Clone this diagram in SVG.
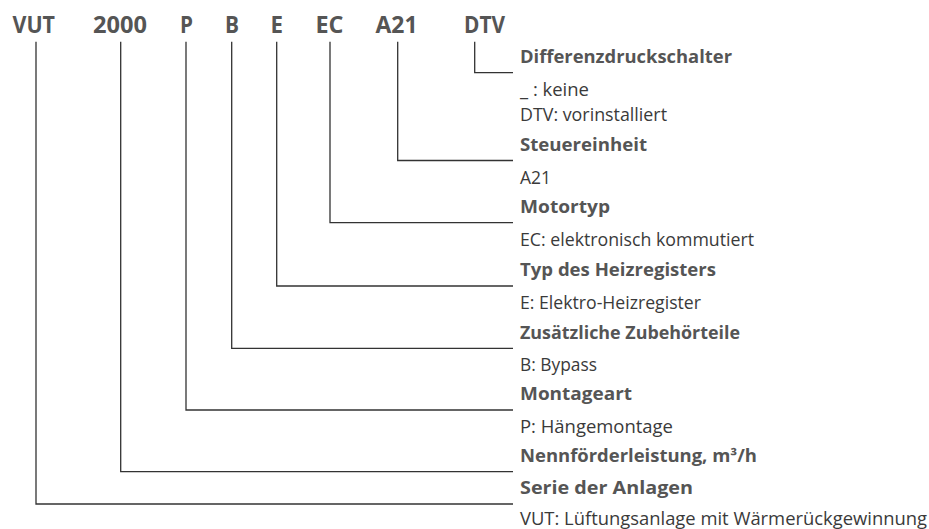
<svg xmlns="http://www.w3.org/2000/svg" width="929" height="529" viewBox="0 0 929 529">
<style>
.code{font-family:"Open Sans","Liberation Sans",sans-serif;font-weight:bold;font-size:23px;fill:#555555}
.head{font-family:"Open Sans","Liberation Sans",sans-serif;font-weight:bold;font-size:17.5px;fill:#555555}
.desc{font-family:"Open Sans","Liberation Sans",sans-serif;font-size:17.5px;fill:#3a3a3a}
.conn{fill:none;stroke:#333333;stroke-width:1.3}
</style>
<rect width="929" height="529" fill="#ffffff"/>
<g id="connectors">
<polyline class="conn" points="474.7,41.7 474.7,72.7 513,72.7"/>
<polyline class="conn" points="397.7,41.7 397.7,160.5 513,160.5"/>
<polyline class="conn" points="330,41.7 330,222.7 513,222.7"/>
<polyline class="conn" points="276.7,41.7 276.7,286 513,286"/>
<polyline class="conn" points="231.7,41.7 231.7,348.3 513,348.3"/>
<polyline class="conn" points="186,41.7 186,410 513,410"/>
<polyline class="conn" points="120.7,41.7 120.7,471.7 513,471.7"/>
<polyline class="conn" points="36,41.7 36,504 513,504"/>
</g>
<g id="node-dtv">
<text class="code" x="464" y="33.3" textLength="41" lengthAdjust="spacingAndGlyphs">DTV</text>
<text class="head" x="520" y="63" textLength="212" lengthAdjust="spacingAndGlyphs">Differenzdruckschalter</text>
<text class="desc" x="520" y="96" textLength="69" lengthAdjust="spacingAndGlyphs">_ : keine</text>
<text class="desc" x="520" y="121" textLength="147" lengthAdjust="spacingAndGlyphs">DTV: vorinstalliert</text>
</g>
<g id="node-a21">
<text class="code" x="375.5" y="33.3" textLength="42" lengthAdjust="spacingAndGlyphs">A21</text>
<text class="head" x="520" y="151" textLength="127" lengthAdjust="spacingAndGlyphs">Steuereinheit</text>
<text class="desc" x="520" y="183.5" textLength="31" lengthAdjust="spacingAndGlyphs">A21</text>
</g>
<g id="node-ec">
<text class="code" x="315.5" y="33.3" textLength="28" lengthAdjust="spacingAndGlyphs">EC</text>
<text class="head" x="520" y="213" textLength="90" lengthAdjust="spacingAndGlyphs">Motortyp</text>
<text class="desc" x="520" y="245.7" textLength="234" lengthAdjust="spacingAndGlyphs">EC: elektronisch kommutiert</text>
</g>
<g id="node-e">
<text class="code" x="270.5" y="33.3" textLength="12.5" lengthAdjust="spacingAndGlyphs">E</text>
<text class="head" x="520" y="276" textLength="196" lengthAdjust="spacingAndGlyphs">Typ des Heizregisters</text>
<text class="desc" x="520" y="308.5" textLength="181" lengthAdjust="spacingAndGlyphs">E: Elektro-Heizregister</text>
</g>
<g id="node-b">
<text class="code" x="225" y="33.3" textLength="14" lengthAdjust="spacingAndGlyphs">B</text>
<text class="head" x="520" y="338.5" textLength="220" lengthAdjust="spacingAndGlyphs">Zusätzliche Zubehörteile</text>
<text class="desc" x="520" y="371" textLength="77" lengthAdjust="spacingAndGlyphs">B: Bypass</text>
</g>
<g id="node-p">
<text class="code" x="180" y="33.3" textLength="13" lengthAdjust="spacingAndGlyphs">P</text>
<text class="head" x="520" y="400" textLength="112" lengthAdjust="spacingAndGlyphs">Montageart</text>
<text class="desc" x="520" y="433" textLength="153" lengthAdjust="spacingAndGlyphs">P: Hängemontage</text>
</g>
<g id="node-2000">
<text class="code" x="93" y="33.3" textLength="54" lengthAdjust="spacingAndGlyphs">2000</text>
<text class="head" x="520" y="462" textLength="237" lengthAdjust="spacingAndGlyphs">Nennförderleistung, m³/h</text>
</g>
<g id="node-vut">
<text class="code" x="12.5" y="33.3" textLength="42.5" lengthAdjust="spacingAndGlyphs">VUT</text>
<text class="head" x="520" y="494" textLength="173" lengthAdjust="spacingAndGlyphs">Serie der Anlagen</text>
<text class="desc" x="520" y="525" textLength="407" lengthAdjust="spacingAndGlyphs">VUT: Lüftungsanlage mit Wärmerückgewinnung</text>
</g>
</svg>
